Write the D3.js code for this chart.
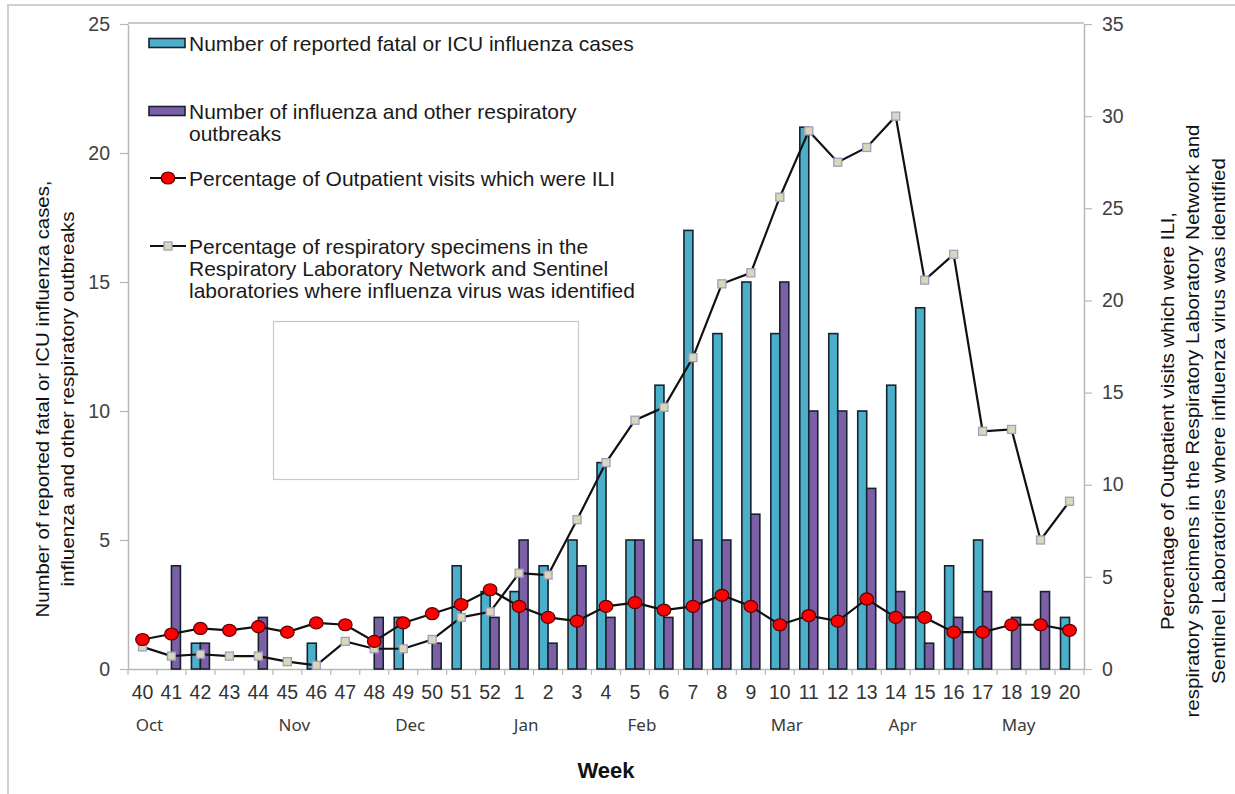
<!DOCTYPE html>
<html>
<head>
<meta charset="utf-8">
<script src="https://cdn.jsdelivr.net/npm/d3@7"></script>
<style>
  body { margin: 0; background: #fff; }
  svg { display: block; font-family: "Liberation Sans", Arial, sans-serif; }
</style>
</head>
<body>
<svg id="chart" width="1235" height="794"></svg>
<script>
// weeks of the season, Oct (40) to May (20)
var weeks = ["40","41","42","43","44","45","46","47","48","49","50","51","52",
             "1","2","3","4","5","6","7","8","9","10","11","12","13","14","15","16","17","18","19","20"];

// left axis (counts)
var fatalIcu  = [0,0,1,0,0,0,1,0,0,2,0,4,3, 3,4,5,8,5,11,17,13,15,13,21,13,10,11,14,4,5,0,0,2];
var outbreaks = [0,4,1,0,2,0,0,0,2,0,1,0,2, 5,1,4,2,5,2,5,5,6,15,10,10,7,3,1,2,3,2,3,0];

// right axis (percent)
var iliPct      = [1.6,1.9,2.2,2.1,2.3,2.0,2.5,2.4,1.5,2.5,3.0,3.5,4.3, 3.4,2.8,2.6,3.4,3.6,3.2,3.4,4.0,3.4,2.4,2.9,2.6,3.8,2.8,2.8,2.0,2.0,2.4,2.4,2.1];
var positivePct = [1.2,0.7,0.8,0.7,0.7,0.4,0.2,1.5,1.1,1.1,1.6,2.8,3.1, 5.2,5.1,8.1,11.2,13.5,14.2,16.9,20.9,21.5,25.6,29.2,27.5,28.3,30.0,21.1,22.5,12.9,13.0,7.0,9.1];

var leftTicks  = [0,5,10,15,20,25];
var rightTicks = [0,5,10,15,20,25,30,35];

var months     = ["Oct","Nov","Dec","Jan","Feb","Mar","Apr","May"];
var monthWeeks = ["40","45","49","1","5","10","14","18"];

var legendLabels = [
  ["Number of reported fatal or ICU influenza cases"],
  ["Number of influenza and other respiratory", "outbreaks"],
  ["Percentage of Outpatient visits which were ILI"],
  ["Percentage of respiratory specimens in the", "Respiratory Laboratory Network and Sentinel", "laboratories where influenza virus was identified"]
];

var leftTitle  = ["Number of reported fatal or ICU influenza cases,", "influenza and other respiratory outbreaks"];
var rightTitle = ["Percentage of Outpatient visits which were ILI,",
                  "respiratory specimens in the Respiratory Laboratory Network and",
                  "Sentinel Laboratories where influenza virus was identified"];

var cyan = "#4bafca", purple = "#7d5fa5", axisGray = "#b8b8b8", textGray = "#404040";

var svg = d3.select("#chart");

// outer frame of the picture
svg.append("rect")
  .attr("x", 8).attr("y", 5).attr("width", 1260).attr("height", 820)
  .attr("fill", "none").attr("stroke", "#cfcfcf").attr("stroke-width", 2);

var plot = { left: 128, right: 1084, top: 24, bottom: 669 };

var x = d3.scaleBand().domain(weeks).range([plot.left, plot.right]).padding(0);
var yL = d3.scaleLinear().domain([0, 25]).range([plot.bottom, plot.top]);
var yR = d3.scaleLinear().domain([0, 35]).range([plot.bottom, plot.top]);
var bw = x.bandwidth();
var barW = bw * 0.31;

// plot area top line
svg.append("line")
  .attr("x1", plot.left).attr("x2", plot.right)
  .attr("y1", plot.top - 1).attr("y2", plot.top - 1)
  .attr("stroke", axisGray).attr("stroke-width", 1.5);

// empty box left over in the original
svg.append("rect")
  .attr("x", 273.5).attr("y", 321.5).attr("width", 305).attr("height", 158)
  .attr("fill", "none").attr("stroke", "#c8c8c8").attr("stroke-width", 1.2);

// axes
function styleAxis(g){
  g.select(".domain").attr("stroke", axisGray).attr("stroke-width", 1.5);
  g.selectAll(".tick line").attr("stroke", axisGray).attr("stroke-width", 1.2);
  g.selectAll(".tick text").attr("fill", textGray).attr("font-size", 19.5)
    .attr("font-family", "Liberation Sans, Arial, sans-serif");
}

var gL = svg.append("g").attr("transform", "translate(" + plot.left + ",0)")
  .call(d3.axisLeft(yL).tickValues(leftTicks).tickSize(8).tickPadding(10).tickSizeOuter(0));
styleAxis(gL);

var gR = svg.append("g").attr("transform", "translate(" + plot.right + ",0)")
  .call(d3.axisRight(yR).tickValues(rightTicks).tickSize(8).tickPadding(10).tickSizeOuter(0));
styleAxis(gR);

var gB = svg.append("g").attr("transform", "translate(0," + plot.bottom + ")")
  .call(d3.axisBottom(x).tickSize(0).tickPadding(16).tickSizeOuter(0));
styleAxis(gB);
gB.selectAll(".tick text").attr("fill", "#333");

// x ticks sit on the band edges
var edges = weeks.map(function(w){ return x(w); }).concat([plot.right]);
svg.append("g").selectAll("line").data(edges).join("line")
  .attr("x1", function(d){ return d; }).attr("x2", function(d){ return d; })
  .attr("y1", plot.bottom).attr("y2", plot.bottom + 6)
  .attr("stroke", axisGray).attr("stroke-width", 1.2);

// bars
var bars = svg.append("g").attr("stroke", "#16232f").attr("stroke-width", 1.6);
bars.selectAll("rect.icu").data(weeks).join("rect").attr("class", "icu")
  .filter(function(w, i){ return fatalIcu[i] > 0; })
  .attr("x", function(w){ return x(w) + bw / 2 - barW; })
  .attr("y", function(w){ return yL(fatalIcu[weeks.indexOf(w)]); })
  .attr("width", barW)
  .attr("height", function(w){ return plot.bottom - yL(fatalIcu[weeks.indexOf(w)]); })
  .attr("fill", cyan);
bars.selectAll("rect.outb").data(weeks).join("rect").attr("class", "outb")
  .filter(function(w, i){ return outbreaks[i] > 0; })
  .attr("x", function(w){ return x(w) + bw / 2; })
  .attr("y", function(w){ return yL(outbreaks[weeks.indexOf(w)]); })
  .attr("width", barW)
  .attr("height", function(w){ return plot.bottom - yL(outbreaks[weeks.indexOf(w)]); })
  .attr("fill", purple);

// lines
var cx = function(d, i){ return x(weeks[i]) + bw / 2; };

var posLine = d3.line().x(cx).y(function(d){ return yR(d); });
svg.append("path").datum(positivePct)
  .attr("d", posLine).attr("fill", "none").attr("stroke", "#111").attr("stroke-width", 2.2);
svg.append("g").selectAll("rect").data(positivePct).join("rect")
  .attr("x", function(d, i){ return cx(d, i) - 4; })
  .attr("y", function(d){ return yR(d) - 4; })
  .attr("width", 8).attr("height", 8)
  .attr("fill", "#d9d9b8").attr("stroke", "#a49cc0").attr("stroke-width", 1.3);

var iliLine = d3.line().x(cx).y(function(d){ return yR(d); });
svg.append("path").datum(iliPct)
  .attr("d", iliLine).attr("fill", "none").attr("stroke", "#111").attr("stroke-width", 2.2);
svg.append("g").selectAll("ellipse").data(iliPct).join("ellipse")
  .attr("cx", cx).attr("cy", function(d){ return yR(d); })
  .attr("rx", 6.8).attr("ry", 6)
  .attr("fill", "#f00").attr("stroke", "#5a0000").attr("stroke-width", 1.2);

// month labels
svg.append("g").selectAll("text").data(months).join("text")
  .attr("x", function(d, i){ return x(monthWeeks[i]) + bw / 2 + 7; })
  .attr("y", 731)
  .attr("text-anchor", "middle")
  .attr("font-family", "Noto Sans, sans-serif")
  .attr("font-size", 17)
  .attr("fill", "#3a3a3a")
  .text(function(d){ return d; });

svg.append("text")
  .attr("x", 606).attr("y", 778).attr("text-anchor", "middle")
  .attr("font-size", 22).attr("font-weight", "bold").attr("fill", "#111")
  .text("Week");

// axis titles
var leftLen = [437, 375];
leftTitle.forEach(function(t, i){
  svg.append("text")
    .attr("transform", "translate(" + (42 + i * 25) + ",399) rotate(-90)")
    .attr("text-anchor", "middle").attr("dominant-baseline", "central")
    .attr("font-size", 19).attr("fill", "#111")
    .attr("textLength", leftLen[i]).attr("lengthAdjust", "spacingAndGlyphs")
    .text(t);
});
var rightLen = [418, 593, 526];
rightTitle.forEach(function(t, i){
  svg.append("text")
    .attr("transform", "translate(" + (1167 + i * 25.5) + ",421) rotate(-90)")
    .attr("text-anchor", "middle").attr("dominant-baseline", "central")
    .attr("font-size", 19).attr("fill", "#111")
    .attr("textLength", rightLen[i]).attr("lengthAdjust", "spacingAndGlyphs")
    .text(t);
});

// legend
var legendY = [43, 111, 178, 246];
var lg = svg.append("g");
legendLabels.forEach(function(lines, i){
  var y0 = legendY[i];
  if (i < 2) {
    lg.append("rect").attr("x", 149).attr("y", y0 - 4.5).attr("width", 36).attr("height", 9)
      .attr("fill", i === 0 ? cyan : purple).attr("stroke", "#16232f").attr("stroke-width", 1.6);
  } else {
    lg.append("line").attr("x1", 150).attr("x2", 186).attr("y1", y0).attr("y2", y0)
      .attr("stroke", "#111").attr("stroke-width", 2.2);
    if (i === 2) {
      lg.append("ellipse").attr("cx", 168).attr("cy", y0).attr("rx", 6.8).attr("ry", 6)
        .attr("fill", "#f00").attr("stroke", "#5a0000").attr("stroke-width", 1.2);
    } else {
      lg.append("rect").attr("x", 164).attr("y", y0 - 4).attr("width", 8).attr("height", 8)
        .attr("fill", "#d9d9b8").attr("stroke", "#a49cc0").attr("stroke-width", 1.3);
    }
  }
  lines.forEach(function(t, j){
    lg.append("text").attr("x", 189).attr("y", y0 + j * 22.3)
      .attr("dominant-baseline", "central")
      .attr("font-size", 21).attr("fill", "#1a1a1a")
      .text(t);
  });
});
</script>
</body>
</html>
